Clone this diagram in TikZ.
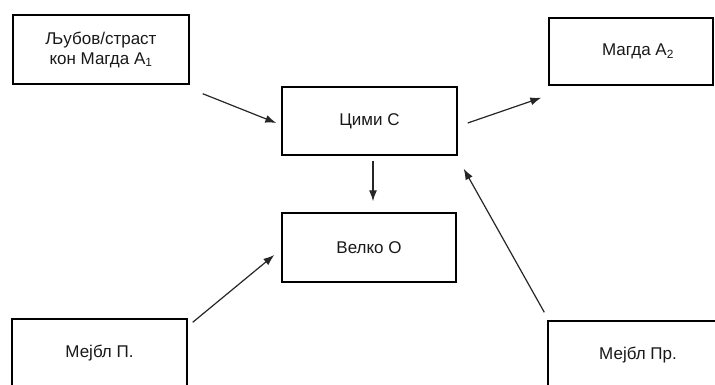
\documentclass[tikz,border=0pt]{standalone}
\usepackage{fontspec}
\setmainfont{Liberation Sans}
\usetikzlibrary{arrows.meta,calc}

\tikzset{
  box/.style={draw=black, line width=1.4pt, fill=white, inner sep=0pt,
              align=center, font=\fontsize{17}{20}\selectfont, text=black!90},
  link/.style={draw=black!85, line width=1.2pt,
               -{Latex[length=11pt,width=8pt]}},
}

\begin{document}
\begin{tikzpicture}[x=1pt,y=-1pt]
  \useasboundingbox (0,0) rectangle (715,385);
  \clip (0,0) rectangle (715,385);

  % boxes
  \node[box, minimum width=176pt, minimum height=69pt] (lub) at (101,49.5)
    {Љубов/страст\\кон Магда А\textsubscript{1}};
  \node[box, minimum width=164pt, minimum height=67pt] (magda) at (631,51.5)
    {\hspace*{14pt}Магда А\textsubscript{2}};
  \node[box, minimum width=175pt, minimum height=68pt] (cimi) at (369.5,121)
    {Цими С};
  \node[box, minimum width=174pt, minimum height=69pt] (velko) at (369,247.5)
    {Велко О};
  \node[box, minimum width=175pt, minimum height=69pt] (mp) at (99.5,353.5)
    {Мејбл П.};
  \node[box, minimum width=180pt, minimum height=69pt] (mpr) at (638,355.5)
    {Мејбл Пр.};

  % connectors
  \draw[link] ($(lub.south east)+(13,9)$) -- ($(cimi.west)+(-5,2)$);
  \draw[link] ($(cimi.east)+(10,2)$) -- ($(magda.south west)+(-7,12)$);
  \draw[link] ($(cimi.south)+(3.5,5)$) -- ($(velko.north)+(4,-11)$);
  \draw[link] ($(mp.north east)+(5,4)$) -- ($(velko.west)+(-7,7.5)$);
  \draw[link] ($(mpr.north west)+(-3,-8)$) -- ($(cimi.south east)+(6,13)$);
\end{tikzpicture}
\end{document}
